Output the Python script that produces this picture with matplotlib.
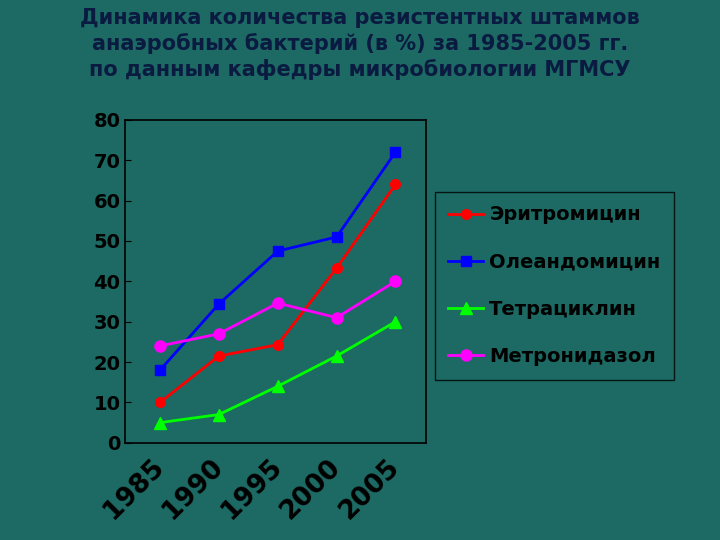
import matplotlib
matplotlib.use("Agg")
from matplotlib import pyplot as plt

years = ["1985", "1990", "1995", "2000", "2005"]
erythro = [10, 21.5, 24.3, 43.3, 64]
oleando = [18, 34.4, 47.5, 51, 72]
tetra = [5, 7, 14, 21.5, 30]
metro = [24, 27, 34.6, 31, 40]

bg = "#1c6a63"
fig = plt.figure(figsize=(7.2, 5.4), dpi=100, facecolor=bg)
ax = fig.add_axes([0.174, 0.180, 0.417, 0.598], facecolor=bg)

x = list(range(len(years)))
ax.plot(x, erythro, color="#ff0000", marker="o", ms=7, lw=2, label="Эритромицин")
ax.plot(x, oleando, color="#0000ff", marker="s", ms=7, lw=2, label="Олеандомицин")
ax.plot(x, tetra, color="#00ff00", marker="^", ms=8, lw=2, label="Тетрациклин")
ax.plot(x, metro, color="#ff00ff", marker="o", ms=8, lw=2, label="Метронидазол")

ax.set_xlim(-0.59, 4.51)
ax.set_ylim(0, 80)
ax.set_yticks(range(0, 81, 10))
ax.tick_params(axis="y", labelsize=14, direction="in", length=4)
for lbl in ax.get_yticklabels():
    lbl.set_fontweight("bold")
ax.set_xticks([i - 0.15 for i in x])
ax.set_xticklabels(years, rotation=45, ha="right", rotation_mode="anchor",
                   fontsize=19, fontweight="bold")
ax.tick_params(axis="x", length=0, pad=8)
for s in ax.spines.values():
    s.set_color("black")
    s.set_linewidth(1.2)

leg = fig.legend(loc="upper left", bbox_to_anchor=(0.604, 0.645), frameon=True,
                 prop={"size": 14, "weight": "bold"}, labelspacing=1.45,
                 handlelength=1.8, handletextpad=0.3, borderpad=0.7,
                 borderaxespad=0, fancybox=False)
leg.get_frame().set_facecolor(bg)
leg.get_frame().set_edgecolor("black")

fig.text(0.5, 0.985, "Динамика количества резистентных штаммов\n"
         "анаэробных бактерий (в %) за 1985-2005 гг.\n"
         "по данным кафедры микробиологии МГМСУ",
         ha="center", va="top", fontsize=15, fontweight="bold",
         color="#0a1a40", linespacing=1.3)

fig.savefig("out.png", dpi=100, facecolor=bg)
